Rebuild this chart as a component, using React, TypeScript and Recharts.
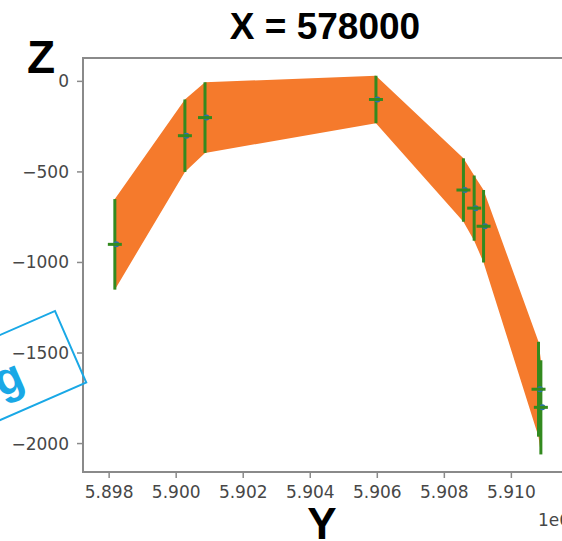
import { ComposedChart, Area, Scatter, ErrorBar, XAxis, YAxis, ReferenceArea } from 'recharts';

// positions along Y (metres) and measured Z with its uncertainty
const yPos = [5898170, 5900260, 5900860, 5905960, 5908570, 5908890, 5909170, 5910810, 5910880];
const zVal = [-900, -300, -200, -100, -600, -700, -800, -1700, -1800];
const zErr = [250, 200, 195, 131, 175, 180, 200, 262, 260];

const xTicks = [5898000, 5900000, 5902000, 5904000, 5906000, 5908000, 5910000];
const zTicks = [-2000, -1500, -1000, -500, 0];

const rows = yPos.map((y, i) => ({
    y,
    z: zVal[i],
    ez: zErr[i],
    band: [zVal[i] - zErr[i], zVal[i] + zErr[i]],
}));

const X_DOMAIN: [number, number] = [5897220, 5911570];
const Z_DOMAIN: [number, number] = [-2157, 129];

const FRAME = '#8a8a8a';
const TICK_TEXT = { fontFamily: 'DejaVu Sans', fontSize: 17, fill: '#474747' };
const ORANGE = '#f57a2c';
const GREEN = '#338a1f';
const CYAN = '#19a8e6';

const fmtZ = (v: number) => (v < 0 ? '\u2212' + Math.abs(v) : String(v));
const fmtY = (v: number) => (v / 1e6).toFixed(3);

// small blue marker, mostly hidden under the green marker
const BlueDot = (p: any) => <circle cx={p.cx + 1.5} cy={p.cy} r={3} fill="#2a6fb0" />;
// green '_' marker drawn over it
const GreenDash = (p: any) => (
    <line x1={p.cx - 7} x2={p.cx + 7} y1={p.cy} y2={p.cy} stroke={GREEN} strokeWidth={3} />
);

export default function App() {
    return (
        <div style={{ position: 'absolute', left: 0, top: 0, width: 562, height: 541, overflow: 'hidden', background: '#fff' }}>
            <ComposedChart width={564} height={541} data={rows} margin={{ top: 58, right: 0, bottom: 0, left: 0 }}>
                <XAxis
                    dataKey="y"
                    type="number"
                    domain={X_DOMAIN}
                    allowDataOverflow
                    ticks={xTicks}
                    tickFormatter={fmtY}
                    height={69}
                    tick={TICK_TEXT}
                    tickSize={6}
                    tickMargin={8}
                    axisLine={{ stroke: FRAME, strokeWidth: 2 }}
                    tickLine={{ stroke: FRAME, strokeWidth: 1.5 }}
                />
                <YAxis
                    type="number"
                    domain={Z_DOMAIN}
                    allowDataOverflow
                    ticks={zTicks}
                    tickFormatter={fmtZ}
                    width={83}
                    tick={TICK_TEXT}
                    tickSize={6}
                    tickMargin={8}
                    axisLine={{ stroke: FRAME, strokeWidth: 2 }}
                    tickLine={{ stroke: FRAME, strokeWidth: 1.5 }}
                />
                <ReferenceArea
                    x1={X_DOMAIN[0]}
                    x2={X_DOMAIN[1]}
                    y1={Z_DOMAIN[0]}
                    y2={Z_DOMAIN[1]}
                    fill="none"
                    stroke={FRAME}
                    strokeWidth={2}
                />
                <Area
                    type="linear"
                    dataKey="band"
                    fill={ORANGE}
                    fillOpacity={1}
                    stroke="none"
                    isAnimationActive={false}
                    dot={false}
                    activeDot={false}
                />
                <Scatter dataKey="z" isAnimationActive={false} shape={BlueDot} legendType="none" />
                <Scatter dataKey="z" isAnimationActive={false} shape={GreenDash}>
                    <ErrorBar dataKey="ez" direction="y" width={0} stroke={GREEN} strokeWidth={3} />
                </Scatter>
            </ComposedChart>
            <svg width={562} height={541} style={{ position: 'absolute', left: 0, top: 0, pointerEvents: 'none' }}>
                <text x={325} y={39} textAnchor="middle" fontFamily="Liberation Sans, Arial" fontWeight="bold" fontSize={37} fill="#000">
                    X = 578000
                </text>
                <text x={27} y={73} fontFamily="Liberation Sans, Arial" fontWeight="bold" fontSize={46} fill="#000">
                    Z
                </text>
                <text x={322} y={539} textAnchor="middle" fontFamily="Liberation Sans, Arial" fontWeight="bold" fontSize={44} fill="#000">
                    Y
                </text>
                <text x={538} y={526} fontFamily="DejaVu Sans" fontSize={17} fill="#474747">
                    1e6
                </text>
                <g transform="translate(55,311) rotate(-23.6)">
                    <rect x={-240} y={0} width={240} height={78} fill="none" stroke={CYAN} strokeWidth={2} />
                    <text x={-56} y={58} textAnchor="end" fontFamily="Liberation Sans, Arial" fontWeight="bold" fontSize={46} fill={CYAN}>
                        g
                    </text>
                </g>
            </svg>
        </div>
    );
}
